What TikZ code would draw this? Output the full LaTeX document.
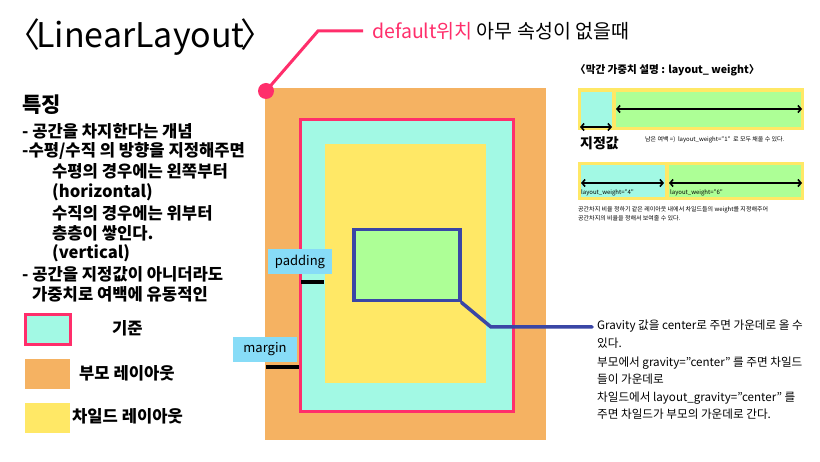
\documentclass[tikz,border=0pt]{standalone}
\usepackage{fontspec}
\setmainfont{Noto Sans CJK KR}
\usetikzlibrary{arrows.meta}
\definecolor{orng}{HTML}{F5B262}
\definecolor{cyanf}{HTML}{A2F9E4}
\definecolor{pinkc}{HTML}{FF2E6B}
\definecolor{yel}{HTML}{FFE866}
\definecolor{grn}{HTML}{ADFF96}
\definecolor{bluec}{HTML}{3A46A6}
\definecolor{lbl}{HTML}{87DCF7}
\begin{document}
\begin{tikzpicture}[x=1pt,y=-1pt,
  txt/.style={inner sep=0pt,anchor=west},
  lefttxt/.style={txt,font=\fontsize{16.6}{18}\selectfont\bfseries},
  righttxt/.style={txt,font=\fontsize{11.6}{13}\selectfont},
  tinytxt/.style={txt,font=\fontsize{6}{7}\selectfont},
  tag/.style={fill=lbl,inner sep=0pt,minimum width=64pt,minimum height=25pt,font=\fontsize{13}{14}\selectfont},
  bar/.style={line width=4pt},
  warrow/.style={line width=1.6pt,{Straight Barb[length=3pt,width=7pt]}-{Straight Barb[length=3pt,width=7pt]}}]
\useasboundingbox (0,0) rectangle (820,462);
\fill[white] (0,0) rectangle (820,462);

% title
\node[txt,font=\fontsize{34}{36}\selectfont] (title) at (6,37) {〈\kern-4pt LinearLayout\kern-4pt〉};

% main nested boxes
\node[fill=orng,inner sep=0pt,minimum width=281pt,minimum height=352pt,anchor=north west] (parent) at (265,88) {};
\node[fill=cyanf,draw=pinkc,line width=3pt,inner sep=0pt,minimum width=213pt,minimum height=292pt,anchor=north west] (base) at (299,118) {};
\node[fill=yel,inner sep=0pt,minimum width=161pt,minimum height=239pt,anchor=north west] (child) at (325,144) {};
\node[fill=grn,draw=bluec,line width=3.5pt,inner sep=0pt,minimum width=106pt,minimum height=71pt,anchor=north west] (gbox) at (352,228) {};

% default pointer
\node[circle,fill=pinkc,inner sep=0pt,minimum size=16pt] (dot) at (266,91) {};
\coordinate (dend) at (363,31);
\draw[pinkc,line width=3pt] (dot.center) -- (318,31) -- (dend);
\node[txt,font=\fontsize{19.5}{21}\selectfont] (deftxt) at (372,31) {\textcolor{pinkc}{default위치} 아무 속성이 없을때};

% blue pointer
\coordinate (gend) at (592,327);
\draw[bluec,line width=3.5pt,line cap=round] (gbox.south east) -- (491,327) -- (gend);
\node[righttxt] (g1) at (597,326) {Gravity 값을 center로 주면 가운데로 올 수};
\node[righttxt] (g2) at (597,343) {있다.};
\node[righttxt] (g3) at (597,363) {부모에서 gravity=”center” 를 주면 차일드};
\node[righttxt] (g4) at (597,379) {들이 가운데로};
\node[righttxt] (g5) at (597,398) {차일드에서 layout\_gravity=”center” 를};
\node[righttxt] (g6) at (597,414) {주면 차일드가 부모의 가운데로 간다.};

% padding / margin
\node[tag] (pad) at (300,261.5) {padding};
\draw[bar] (301,282) -- (324,282);
\node[tag] (mar) at (265,349.5) {margin};
\draw[bar] (266,367) -- (299,367);

% left text
\node[txt,font=\fontsize{21}{22}\selectfont\bfseries] (feat) at (22,105) {특징};
\node[lefttxt] (l1) at (22,131) {- 공간을 차지한다는 개념};
\node[lefttxt] (l2) at (22,151) {-수평/수직 의 방향을 지정해주면};
\node[lefttxt] (l3) at (52,171) {수평의 경우에는 왼쪽부터};
\node[lefttxt] (l4) at (52,192) {(horizontal)};
\node[lefttxt] (l5) at (52,213) {수직의 경우에는 위부터};
\node[lefttxt] (l6) at (52,233) {층층이 쌓인다.};
\node[lefttxt] (l7) at (52,253) {(vertical)};
\node[lefttxt] (l8) at (22,274) {- 공간을 지정값이 아니더라도};
\node[lefttxt] (l9) at (32,294) {가중치로 여백에 유동적인};

% legend
\node[fill=cyanf,draw=pinkc,line width=3pt,inner sep=0pt,minimum width=45pt,minimum height=30pt] (lg1) at (47.5,330) {};
\node[lefttxt] (lt1) at (112,328) {기준};
\node[fill=orng,inner sep=0pt,minimum width=45pt,minimum height=30pt] (lg2) at (47.5,374) {};
\node[lefttxt] (lt2) at (79,373) {부모 레이아웃};
\node[fill=yel,inner sep=0pt,minimum width=45pt,minimum height=30pt] (lg3) at (47.5,418) {};
\node[lefttxt] (lt3) at (72,416) {차일드 레이아웃};

% weight explanation
\node[txt,font=\fontsize{10.6}{12}\selectfont\bfseries] (wh) at (575,70) {〈막간 가중치 설명 : layout\_ weight〉};
\fill[yel] (578,88) rectangle (804,130);
\fill[cyanf] (581,92) rectangle (612,128);
\fill[grn] (616,92) rectangle (801,127);
\draw[warrow] (616,109) -- (802,109);
\draw[warrow] (580,127) -- (612,127);
\node[txt,font=\fontsize{14}{15}\selectfont\bfseries] (jj) at (580,143) {지정값};
\node[tinytxt] (rem) at (645,140) {남은 여백 =)\ \ layout\_weight=”1”\ \ 로 모두 채울 수 있다.};

\fill[yel] (578,162) rectangle (804,200);
\fill[cyanf] (581,165) rectangle (665,197);
\fill[grn] (669,165) rectangle (801,197);
\draw[warrow] (581,183) -- (664,183);
\draw[warrow] (669,183) -- (802,183);
\node[tinytxt] (w4) at (581,193) {layout\_weight=”4”};
\node[tinytxt] (w6) at (670,193) {layout\_weight=”6”};
\node[tinytxt] (c1) at (578,210) {공간차지 비율 정하기 같은 레이아웃 내에서 차일드들의 weight를 지정해주어};
\node[tinytxt] (c2) at (578,218) {공간차지의 비율을 정해서 보여줄 수 있다.};
\end{tikzpicture}
\end{document}
